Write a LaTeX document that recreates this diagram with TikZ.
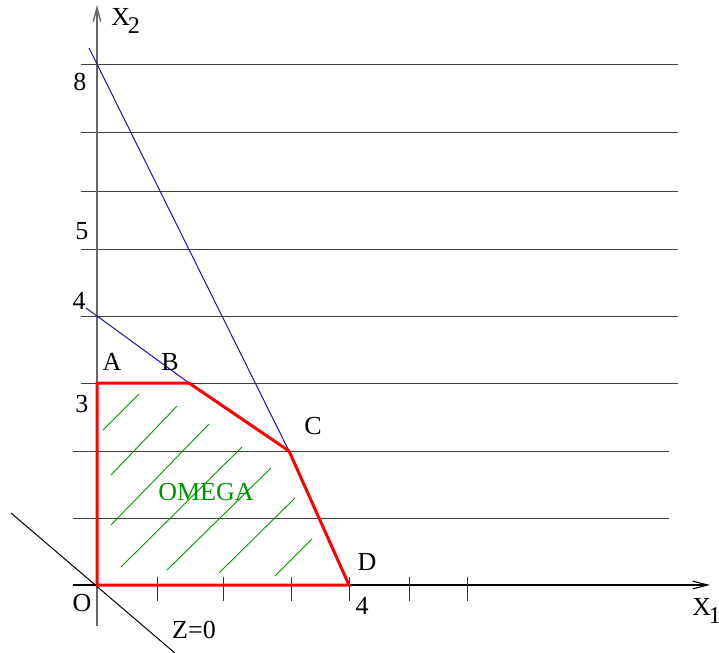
\documentclass[tikz,border=0pt]{standalone}
\usepackage{fontspec}
\setmainfont{Liberation Serif}
\usetikzlibrary{arrows.meta}
\definecolor{omgreen}{RGB}{0,150,0}
\definecolor{lineblue}{RGB}{20,20,170}
\newcommand{\axsub}[1]{\kern-1.2pt\raisebox{-4pt}{\fontsize{12}{14}\selectfont #1}}
\begin{document}
\begin{tikzpicture}[x=0.5pt,y=-0.5pt,
  lbl/.style={inner sep=0pt,font=\fontsize{13}{15}\selectfont},
  grid/.style={black!75,line width=0.5pt},
  axis/.style={black,line width=0.55pt,-{Straight Barb[length=7.5pt,width=3.8pt]}},
  yaxis/.style={black!60,line width=0.7pt,-{Straight Barb[length=7pt,width=3.8pt]}},
  region/.style={red,line width=1.5pt,line join=miter},
  constraint/.style={lineblue,line width=0.5pt},
  hatch/.style={omgreen,line width=0.45pt},
  tick/.style={black!80,line width=0.5pt}]
\useasboundingbox (0,0) rectangle (719,653);
% points
\coordinate (O) at (97,585);
\coordinate (A) at (97,383);
\coordinate (B) at (189,383);
\coordinate (C) at (289,451);
\coordinate (D) at (349,585);
% axes
\coordinate (xs) at (73,585); \coordinate (xe) at (710,585);
\coordinate (ys) at (97,626); \coordinate (ye) at (97,5);
% grid lines
\foreach \y/\l/\r [count=\i] in {64/81/678,132/81/678,191/81/678,249/81/678,316/81/678,383/81/678,451/73/669,518/73/669}{
  \coordinate (gl\i) at (\l,\y); \coordinate (gr\i) at (\r,\y);
  \draw[grid] (gl\i) -- (gr\i);
}
\draw[yaxis] (ys) -- (ye);
\draw[axis] (xs) -- (xe);
% ticks
\foreach \x [count=\i] in {157,223,291,349,409,467}{
  \coordinate (tt\i) at (\x,577); \coordinate (tb\i) at (\x,601);
  \draw[tick] (tt\i) -- (tb\i);
}
% constraint lines
\coordinate (c1s) at (89,48);
\coordinate (c2s) at (86,308);
\draw[constraint] (c1s) -- (C);
\draw[constraint] (c2s) -- (B);
% hatching
\foreach \ax/\ay/\bx/\by [count=\i] in {103/430/139/394, 111/475/177/406, 111/525/209/424, 121/567/242/447, 167/570/271/468, 219/573/295/498, 275/576/312/539}{
  \coordinate (h\i a) at (\ax,\ay); \coordinate (h\i b) at (\bx,\by);
  \draw[hatch] (h\i a) -- (h\i b);
}
% objective line Z=0
\coordinate (zs) at (11,513);
\coordinate (ze) at (176,654);
\draw[black,line width=0.5pt] (zs) -- (ze);
% feasible region
\draw[region] (O) -- (A) -- (B) -- (C) -- (D) -- cycle;
% labels
\node[lbl,anchor=west] (lx2) at (111,21) {X\axsub{2}};
\node[lbl,anchor=west] (lx1) at (692,611) {X\axsub{1}};
\node[lbl] (l8) at (80,82) {8};
\node[lbl] (l5) at (82,231) {5};
\node[lbl] (l4y) at (79,301) {4};
\node[lbl] (l3) at (82,404) {3};
\node[lbl] (lA) at (112,362) {A};
\node[lbl] (lB) at (170,362) {B};
\node[lbl] (lC) at (313,426) {C};
\node[lbl] (lD) at (367,562) {D};
\node[lbl] (lO) at (82,603) {O};
\node[lbl] (l4x) at (362,606) {4};
\node[lbl] (lZ) at (194,630) {Z=0};
\node[lbl,text=omgreen] (lom) at (206,492) {OMEGA};
\end{tikzpicture}
\end{document}
